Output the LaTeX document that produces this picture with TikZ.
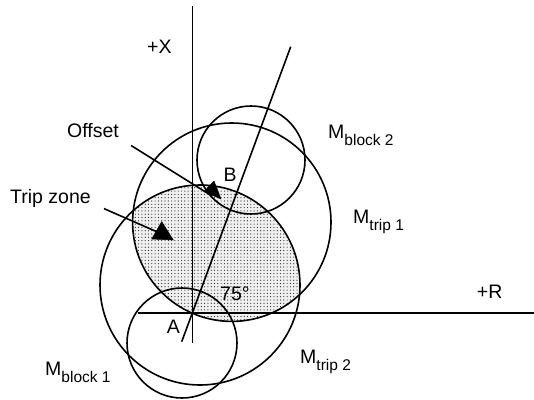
\documentclass[tikz,border=0pt]{standalone}
\usepackage{fontspec}
\setmainfont{Liberation Sans}
\usetikzlibrary{patterns,patterns.meta}
\newcommand{\msub}[1]{M\raisebox{-7pt}{\fontsize{15.5pt}{16pt}\selectfont #1}}
\begin{document}
\begin{tikzpicture}[x=1pt,y=-1pt,
  ln/.style={line width=1.6pt, black},
  lbl/.style={anchor=base west, inner sep=0pt, font=\fontsize{19.5pt}{22pt}\selectfont},
  head/.style={fill=black, draw=black, line width=0.5pt, line join=round}]
\useasboundingbox (0,0) rectangle (534,399);
% key points
\coordinate (A) at (192.5,313);
\coordinate (Ct1) at (231.8,222.2);
\coordinate (Ct2) at (200,285);
\coordinate (Cb1) at (182,343);
\coordinate (Cb2) at (251,160);
\coordinate (xtop) at (192.5,6);
\coordinate (xbot) at (192.5,343);
\coordinate (rleft) at (138,313);
\coordinate (rright) at (534,313);
\coordinate (incl0) at (181.7,341.7);
\coordinate (incl1) at (290.7,46.7);
% trip zone shading (intersection of the two trip circles)
\begin{scope}
  \clip (Ct1) circle (99.2);
  \fill[black!6] (Ct2) circle (100);
  \fill[pattern={Dots[radius=0.6pt, distance=3.3pt]}, pattern color=black!85] (Ct2) circle (100);
\end{scope}
% axes
\draw[ln] (xtop) -- (xbot);
\draw[ln] (rleft) -- (rright);
\draw[ln] (incl0) -- (incl1);
% circles
\draw[ln] (Ct1) circle (99.2);
\draw[ln] (Ct2) circle (100);
\draw[ln] (Cb1) circle (55);
\draw[ln] (Cb2) circle (54);
% labels
\node[lbl] (px) at (147,53) {+X};
\node[lbl] (pr) at (476.7,298) {+R};
\node[lbl] (offset) at (67,137) {Offset};
\node[lbl] (trip) at (10,203.3) {Trip zone};
\node[lbl] (mb2) at (328,138) {\msub{block 2}};
\node[lbl] (mt1) at (353,223) {\msub{trip 1}};
\node[lbl] (mt2) at (300,363.3) {\msub{trip 2}};
\node[lbl] (mb1) at (45,375) {\msub{block 1}};
\node[lbl] (la) at (166.7,333.3) {A};
\node[lbl] (lb) at (223.3,181.7) {B};
\node[lbl] (ang) at (220,300) {75°};
% pointer lines with triangular heads
\coordinate (offtip) at (212,196);
\coordinate (triptip) at (162,234);
\draw[ln] ([xshift=12pt,yshift=-8.5pt]offset.base east) -- (offtip);
\draw[ln] ([xshift=13pt,yshift=-5.3pt]trip.base east) -- (triptip);
\fill[head] (204,191.5) -- (214,181) -- (221,199) -- cycle;
\fill[head] (151.7,239) -- (161.7,221.7) -- (173.3,240) -- cycle;
\end{tikzpicture}
\end{document}
